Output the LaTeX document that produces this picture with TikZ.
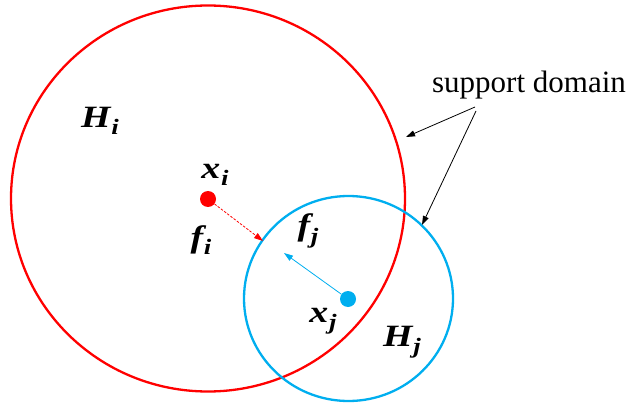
\documentclass[tikz,border=0pt]{standalone}
\usepackage{fontspec}
\setmainfont{Liberation Serif}
\usetikzlibrary{arrows.meta}
\definecolor{myred}{RGB}{255,0,0}
\definecolor{myblue}{RGB}{0,174,239}
\newcommand{\vlab}[2]{\scalebox{1.22}[1]{\fontsize{31}{34}\selectfont\bfseries\itshape #1\kern0.02em\raisebox{-0.24em}{\fontsize{22}{25}\selectfont #2}}}
\tikzset{
  domred/.style={draw=myred, line width=2.3pt},
  domblue/.style={draw=myblue, line width=2.3pt},
  dotnode/.style={circle, inner sep=0pt, minimum size=16pt},
  lab/.style={inner sep=0pt, anchor=center},
  ptr/.style={-{Triangle[length=9pt,width=6pt]}, line width=0.8pt},
}
\begin{document}
\begin{tikzpicture}[x=1pt,y=-1pt]
\useasboundingbox (0,0) rectangle (628,403);
\draw[domred] (208,198.5) ellipse [x radius=197pt, y radius=193pt];
\draw[domblue] (348.5,298.5) ellipse [x radius=104.5pt, y radius=102.5pt];
\node[dotnode, fill=myred] (xi) at (208,199) {};
\node[dotnode, fill=myblue] (xj) at (348,299) {};
\coordinate (ti) at (263,241);
\coordinate (tj) at (284,253);
\draw[ptr, myred, dashed, dash pattern=on 2.5pt off 1.5pt] (xi) -- (ti);
\draw[ptr, myblue] (xj) -- (tj);
\node[lab] (Hi) at (100,121) {\vlab{H}{i}};
\node[lab] (lxi) at (215,175) {\vlab{x}{i}};
\node[lab] (lfi) at (201,240) {\vlab{f}{i}};
\node[lab] (lfj) at (308,231) {\vlab{f}{j}};
\node[lab] (lxj) at (323,321) {\vlab{x}{j}};
\node[lab] (Hj) at (402,342) {\vlab{H}{j}};
\node[lab] (sd) at (529,85) {\fontsize{31}{35}\selectfont support domain};
\coordinate (s1) at (475,107);
\coordinate (e1) at (406,137);
\coordinate (s2) at (476,111);
\coordinate (e2) at (422,225);
\draw[ptr, black] (s1) -- (e1);
\draw[ptr, black] (s2) -- (e2);
\end{tikzpicture}
\end{document}
